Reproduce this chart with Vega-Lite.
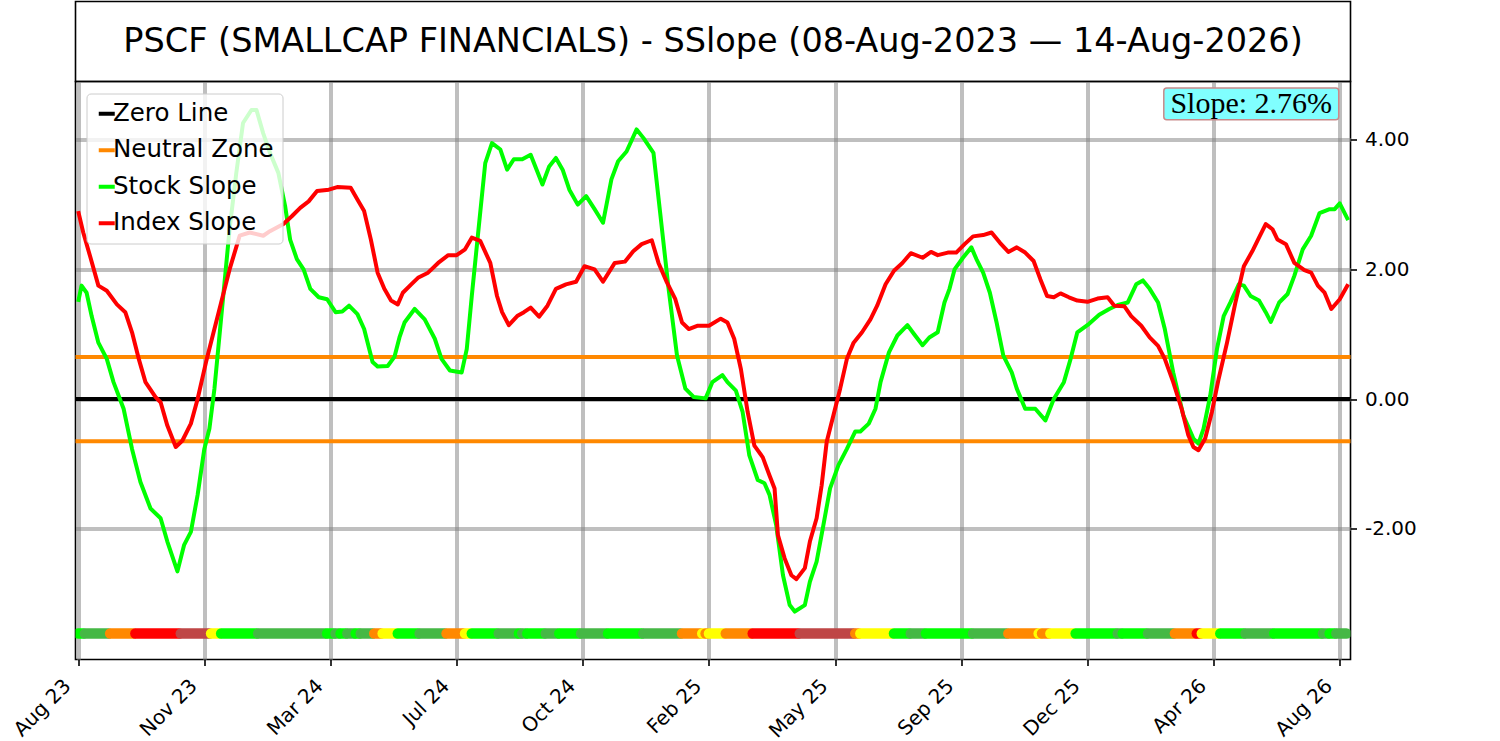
{
  "$schema": "https://vega.github.io/schema/vega-lite/v6.json",
  "background": "white",
  "padding": {"left": 8.5, "top": 0.5, "right": 0, "bottom": 0},
  "spacing": 0,
  "bounds": "flush",
  "datasets": {
    "refs": [
      {"name": "Zero Line", "y": 0},
      {"name": "Neutral Zone", "y": 0.65},
      {"name": "Neutral Zone", "y": -0.65}
    ],
    "stock": [
      {"t":0,"v":1.50},{"t":2,"v":1.75},{"t":5,"v":1.64},{"t":8,"v":1.28},{"t":12,"v":0.87},{"t":17,"v":0.62},{"t":21,"v":0.26},{"t":27,"v":-0.15},{"t":32,"v":-0.77},{"t":37,"v":-1.28},
      {"t":43,"v":-1.69},{"t":49,"v":-1.84},{"t":53,"v":-2.20},{"t":59,"v":-2.66},{"t":63,"v":-2.25},{"t":67,"v":-2.05},{"t":71,"v":-1.48},{"t":75,"v":-0.77},{"t":78,"v":-0.46},{"t":81,"v":0.16},
      {"t":84,"v":0.98},{"t":87,"v":1.80},{"t":90,"v":2.62},{"t":94,"v":3.49},{"t":98,"v":4.26},{"t":103,"v":4.46},{"t":106,"v":4.46},{"t":110,"v":4.10},{"t":114,"v":3.80},{"t":119,"v":3.49},
      {"t":123,"v":2.98},{"t":126,"v":2.46},{"t":130,"v":2.16},{"t":134,"v":2.00},{"t":138,"v":1.70},{"t":143,"v":1.57},{"t":148,"v":1.54},{"t":153,"v":1.34},{"t":157,"v":1.35},{"t":161,"v":1.44},
      {"t":166,"v":1.31},{"t":170,"v":1.08},{"t":175,"v":0.57},{"t":178,"v":0.50},{"t":184,"v":0.51},{"t":188,"v":0.65},{"t":191,"v":0.95},{"t":194,"v":1.18},{"t":200,"v":1.39},{"t":206,"v":1.23},
      {"t":212,"v":0.93},{"t":216,"v":0.62},{"t":221,"v":0.44},{"t":228,"v":0.41},{"t":231,"v":0.77},{"t":234,"v":1.59},{"t":238,"v":2.62},{"t":242,"v":3.64},{"t":246,"v":3.95},{"t":251,"v":3.85},
      {"t":255,"v":3.54},{"t":259,"v":3.70},{"t":264,"v":3.70},{"t":269,"v":3.77},{"t":276,"v":3.31},{"t":280,"v":3.59},{"t":284,"v":3.72},{"t":288,"v":3.54},{"t":292,"v":3.23},{"t":297,"v":3.00},
      {"t":302,"v":3.13},{"t":307,"v":2.93},{"t":312,"v":2.72},{"t":317,"v":3.39},{"t":321,"v":3.67},{"t":326,"v":3.82},{"t":332,"v":4.16},{"t":336,"v":4.03},{"t":342,"v":3.80},{"t":346,"v":2.87},
      {"t":351,"v":1.70},{"t":356,"v":0.67},{"t":361,"v":0.16},{"t":366,"v":0.03},{"t":373,"v":0.01},{"t":377,"v":0.26},{"t":383,"v":0.37},{"t":386,"v":0.26},{"t":391,"v":0.13},{"t":395,"v":-0.20},
      {"t":399,"v":-0.87},{"t":404,"v":-1.25},{"t":408,"v":-1.30},{"t":411,"v":-1.48},{"t":415,"v":-1.95},{"t":419,"v":-2.72},{"t":423,"v":-3.18},{"t":426,"v":-3.28},{"t":432,"v":-3.18},{"t":435,"v":-2.82},
      {"t":439,"v":-2.51},{"t":443,"v":-1.95},{"t":447,"v":-1.38},{"t":452,"v":-1.02},{"t":457,"v":-0.77},{"t":462,"v":-0.50},{"t":465,"v":-0.50},{"t":470,"v":-0.38},{"t":474,"v":-0.15},{"t":477,"v":0.26},
      {"t":482,"v":0.72},{"t":487,"v":0.98},{"t":493,"v":1.14},{"t":497,"v":1.00},{"t":502,"v":0.83},{"t":506,"v":0.95},{"t":511,"v":1.03},{"t":515,"v":1.49},{"t":518,"v":1.70},{"t":521,"v":2.00},
      {"t":526,"v":2.18},{"t":531,"v":2.34},{"t":534,"v":2.16},{"t":538,"v":1.95},{"t":542,"v":1.64},{"t":546,"v":1.18},{"t":550,"v":0.67},{"t":555,"v":0.41},{"t":558,"v":0.16},{"t":563,"v":-0.15},
      {"t":569,"v":-0.15},{"t":575,"v":-0.33},{"t":580,"v":0.00},{"t":586,"v":0.26},{"t":590,"v":0.62},{"t":594,"v":1.03},{"t":601,"v":1.16},{"t":607,"v":1.30},{"t":613,"v":1.39},{"t":618,"v":1.45},
      {"t":624,"v":1.49},{"t":629,"v":1.77},{"t":633,"v":1.83},{"t":637,"v":1.70},{"t":642,"v":1.49},{"t":646,"v":1.08},{"t":651,"v":0.41},{"t":657,"v":-0.25},{"t":663,"v":-0.61},{"t":666,"v":-0.69},
      {"t":669,"v":-0.46},{"t":673,"v":0.05},{"t":677,"v":0.77},{"t":681,"v":1.28},{"t":685,"v":1.49},{"t":690,"v":1.77},{"t":693,"v":1.75},{"t":697,"v":1.59},{"t":702,"v":1.52},{"t":706,"v":1.34},
      {"t":709,"v":1.19},{"t":714,"v":1.49},{"t":719,"v":1.62},{"t":723,"v":1.90},{"t":728,"v":2.31},{"t":733,"v":2.52},{"t":738,"v":2.87},{"t":744,"v":2.93},{"t":747,"v":2.93},{"t":750,"v":3.02},
      {"t":755,"v":2.76}
    ],
    "index": [
      {"t":0,"v":2.90},{"t":3,"v":2.57},{"t":7,"v":2.21},{"t":12,"v":1.75},{"t":17,"v":1.67},{"t":23,"v":1.46},{"t":28,"v":1.34},{"t":32,"v":1.03},{"t":36,"v":0.62},{"t":40,"v":0.26},
      {"t":46,"v":0.03},{"t":49,"v":-0.05},{"t":53,"v":-0.41},{"t":58,"v":-0.74},{"t":62,"v":-0.64},{"t":67,"v":-0.38},{"t":71,"v":0.00},{"t":76,"v":0.57},{"t":80,"v":0.98},{"t":85,"v":1.49},
      {"t":90,"v":2.00},{"t":96,"v":2.52},{"t":102,"v":2.57},{"t":110,"v":2.52},{"t":114,"v":2.59},{"t":122,"v":2.70},{"t":127,"v":2.82},{"t":132,"v":2.95},{"t":137,"v":3.05},{"t":142,"v":3.21},
      {"t":149,"v":3.23},{"t":154,"v":3.27},{"t":162,"v":3.26},{"t":166,"v":3.08},{"t":170,"v":2.90},{"t":174,"v":2.46},{"t":178,"v":1.95},{"t":182,"v":1.70},{"t":186,"v":1.52},{"t":190,"v":1.46},
      {"t":193,"v":1.64},{"t":198,"v":1.77},{"t":202,"v":1.87},{"t":208,"v":1.95},{"t":214,"v":2.10},{"t":220,"v":2.22},{"t":225,"v":2.22},{"t":230,"v":2.31},{"t":234,"v":2.49},{"t":239,"v":2.44},
      {"t":245,"v":2.10},{"t":249,"v":1.59},{"t":252,"v":1.34},{"t":256,"v":1.14},{"t":261,"v":1.28},{"t":265,"v":1.34},{"t":269,"v":1.41},{"t":274,"v":1.27},{"t":279,"v":1.44},{"t":284,"v":1.70},
      {"t":290,"v":1.77},{"t":296,"v":1.81},{"t":301,"v":2.05},{"t":307,"v":2.00},{"t":312,"v":1.81},{"t":319,"v":2.10},{"t":325,"v":2.12},{"t":330,"v":2.28},{"t":335,"v":2.39},{"t":341,"v":2.45},
      {"t":345,"v":2.10},{"t":350,"v":1.80},{"t":355,"v":1.54},{"t":359,"v":1.18},{"t":363,"v":1.08},{"t":368,"v":1.13},{"t":375,"v":1.13},{"t":382,"v":1.24},{"t":386,"v":1.18},{"t":390,"v":0.93},
      {"t":394,"v":0.46},{"t":398,"v":-0.20},{"t":402,"v":-0.72},{"t":407,"v":-0.90},{"t":411,"v":-1.18},{"t":414,"v":-1.38},{"t":416,"v":-2.10},{"t":420,"v":-2.46},{"t":424,"v":-2.72},{"t":427,"v":-2.78},
      {"t":432,"v":-2.61},{"t":435,"v":-2.20},{"t":439,"v":-1.84},{"t":442,"v":-1.33},{"t":445,"v":-0.66},{"t":449,"v":-0.25},{"t":453,"v":0.16},{"t":457,"v":0.62},{"t":461,"v":0.87},{"t":466,"v":1.03},
      {"t":471,"v":1.23},{"t":475,"v":1.44},{"t":480,"v":1.77},{"t":485,"v":1.98},{"t":490,"v":2.10},{"t":495,"v":2.25},{"t":502,"v":2.18},{"t":507,"v":2.27},{"t":511,"v":2.22},{"t":517,"v":2.26},
      {"t":522,"v":2.26},{"t":527,"v":2.39},{"t":532,"v":2.51},{"t":538,"v":2.53},{"t":543,"v":2.57},{"t":548,"v":2.41},{"t":553,"v":2.27},{"t":558,"v":2.34},{"t":563,"v":2.26},{"t":568,"v":2.13},
      {"t":572,"v":1.85},{"t":576,"v":1.59},{"t":580,"v":1.57},{"t":584,"v":1.63},{"t":589,"v":1.57},{"t":594,"v":1.52},{"t":600,"v":1.50},{"t":606,"v":1.55},{"t":612,"v":1.57},{"t":616,"v":1.44},
      {"t":622,"v":1.43},{"t":626,"v":1.28},{"t":632,"v":1.13},{"t":637,"v":0.95},{"t":642,"v":0.82},{"t":646,"v":0.62},{"t":651,"v":0.26},{"t":656,"v":-0.15},{"t":660,"v":-0.56},{"t":663,"v":-0.74},
      {"t":666,"v":-0.79},{"t":670,"v":-0.61},{"t":674,"v":-0.20},{"t":678,"v":0.31},{"t":683,"v":0.87},{"t":688,"v":1.49},{"t":693,"v":2.05},{"t":698,"v":2.28},{"t":702,"v":2.49},{"t":706,"v":2.70},
      {"t":710,"v":2.62},{"t":713,"v":2.46},{"t":718,"v":2.39},{"t":723,"v":2.10},{"t":729,"v":1.99},{"t":733,"v":1.95},{"t":737,"v":1.75},{"t":741,"v":1.64},{"t":745,"v":1.39},{"t":750,"v":1.54},
      {"t":755,"v":1.77}
    ],
    "strip": [
      {"a":0,"b":3,"s":"su"},{"a":4,"b":18,"s":"up"},{"a":19,"b":33,"s":"wk"},{"a":34,"b":60,"s":"dn"},{"a":61,"b":78,"s":"dw"},
      {"a":79,"b":84,"s":"fl"},{"a":85,"b":106,"s":"su"},{"a":107,"b":147,"s":"up"},{"a":148,"b":152,"s":"su"},{"a":153,"b":155,"s":"up"},
      {"a":156,"b":159,"s":"su"},{"a":160,"b":164,"s":"up"},{"a":165,"b":167,"s":"su"},{"a":168,"b":175,"s":"up"},{"a":176,"b":180,"s":"wk"},
      {"a":181,"b":189,"s":"fl"},{"a":190,"b":202,"s":"su"},{"a":203,"b":218,"s":"up"},{"a":219,"b":229,"s":"wk"},{"a":230,"b":233,"s":"fl"},
      {"a":234,"b":249,"s":"su"},{"a":250,"b":261,"s":"up"},{"a":262,"b":263,"s":"su"},{"a":264,"b":266,"s":"up"},{"a":267,"b":277,"s":"su"},
      {"a":278,"b":285,"s":"up"},{"a":286,"b":298,"s":"su"},{"a":299,"b":314,"s":"up"},{"a":315,"b":335,"s":"su"},{"a":336,"b":358,"s":"up"},
      {"a":359,"b":370,"s":"wk"},{"a":371,"b":372,"s":"fl"},{"a":373,"b":374,"s":"wk"},{"a":375,"b":384,"s":"fl"},{"a":385,"b":400,"s":"wk"},
      {"a":401,"b":428,"s":"dn"},{"a":429,"b":461,"s":"dw"},{"a":462,"b":464,"s":"wk"},{"a":465,"b":484,"s":"fl"},{"a":485,"b":494,"s":"su"},
      {"a":495,"b":503,"s":"up"},{"a":504,"b":531,"s":"su"},{"a":532,"b":552,"s":"up"},{"a":553,"b":570,"s":"wk"},{"a":571,"b":572,"s":"fl"},
      {"a":573,"b":577,"s":"wk"},{"a":578,"b":592,"s":"fl"},{"a":593,"b":617,"s":"su"},{"a":618,"b":620,"s":"up"},{"a":621,"b":635,"s":"su"},
      {"a":636,"b":651,"s":"up"},{"a":652,"b":664,"s":"wk"},{"a":665,"b":667,"s":"dn"},{"a":668,"b":678,"s":"fl"},{"a":679,"b":693,"s":"su"},
      {"a":694,"b":710,"s":"up"},{"a":711,"b":739,"s":"su"},{"a":740,"b":743,"s":"up"},{"a":744,"b":747,"s":"su"},{"a":748,"b":754,"s":"up"}
    ]
  },
  "vconcat": [
    {
      "width": 1275,
      "height": 80,
      "data": {"values": [{"title": "PSCF (SMALLCAP FINANCIALS) - SSlope (08-Aug-2023 — 14-Aug-2026)"}]},
      "mark": {"type": "text", "font": "DejaVu Sans", "fontSize": 33.5, "align": "center", "baseline": "middle", "color": "black"},
      "encoding": {
        "x": {"datum": 0.5, "type": "quantitative", "scale": {"domain": [0, 1]}, "axis": null},
        "y": {"datum": 0.5, "type": "quantitative", "scale": {"domain": [0, 1]}, "axis": null},
        "text": {"field": "title", "type": "nominal"}
      }
    },
    {
      "width": 1275,
      "height": 578,
      "layer": [
        {
          "data": {"name": "refs"},
          "mark": {"type": "rule", "strokeWidth": 4},
          "encoding": {
            "y": {
              "field": "y",
              "type": "quantitative",
              "scale": {"domain": [-4.02, 4.9], "nice": false, "zero": false},
              "axis": {
                "orient": "right",
                "values": [-2, 0, 2, 4],
                "labelExpr": "replace(format(datum.value, '.2f'), '\u2212', '-')",
                "title": null,
                "labelPadding": 8
              }
            },
            "color": {
              "field": "name",
              "type": "nominal",
              "scale": {
                "domain": ["Zero Line", "Neutral Zone", "Stock Slope", "Index Slope"],
                "range": ["#000000", "#ff8800", "#00ff00", "#ff0000"]
              },
              "legend": {
                "title": null,
                "orient": "none",
                "legendX": 11,
                "legendY": 92,
                "symbolType": "stroke",
                "symbolStrokeWidth": 4,
                "symbolSize": 256,
                "labelFontSize": 24.5,
                "labelFont": "DejaVu Sans",
                "labelColor": "black",
                "labelLimit": 300,
                "labelOffset": -6,
                "rowPadding": 11.5,
                "padding": 8,
                "fillColor": "rgba(255,255,255,0.8)",
                "strokeColor": "#cccccc",
                "cornerRadius": 4
              }
            }
          }
        },
        {
          "data": {"name": "strip"},
          "mark": {"type": "rule", "strokeWidth": 10.5, "strokeCap": "round", "clip": true},
          "encoding": {
            "x": {"field": "a", "type": "quantitative"},
            "x2": {"field": "b"},
            "y": {"datum": -3.62},
            "stroke": {
              "field": "s",
              "type": "nominal",
              "scale": {
                "domain": ["su", "up", "fl", "wk", "dn", "dw"],
                "range": ["#00ff00", "#45b845", "#ffff00", "#ff8800", "#ff0000", "#bf4646"]
              },
              "legend": null
            }
          }
        },
        {
          "data": {"name": "stock"},
          "mark": {"type": "line", "strokeWidth": 4, "strokeJoin": "round"},
          "encoding": {
            "x": {
              "field": "t",
              "type": "quantitative",
              "scale": {"domain": [-1.6, 756.4], "nice": false, "zero": false},
              "axis": {
                "values": [0, 75, 150, 225, 300, 375, 450, 525, 600, 675, 750],
                "labelExpr": "['Aug 23','Nov 23','Mar 24','Jul 24','Oct 24','Feb 25','May 25','Sep 25','Dec 25','Apr 26','Aug 26'][round(datum.value / 75)]",
                "labelAngle": -45,
                "labelAlign": "right",
                "labelBaseline": "top",
                "labelOffset": -18,
                "labelPadding": 10,
                "labelFlush": false,
                "labelOverlap": false,
                "title": null
              }
            },
            "y": {"field": "v", "type": "quantitative"},
            "color": {"datum": "Stock Slope"}
          }
        },
        {
          "data": {"name": "index"},
          "mark": {"type": "line", "strokeWidth": 4, "strokeJoin": "round"},
          "encoding": {
            "x": {"field": "t", "type": "quantitative"},
            "y": {"field": "v", "type": "quantitative"},
            "color": {"datum": "Index Slope"}
          }
        },
        {
          "data": {"values": [{"label": "Slope: 2.76%"}]},
          "mark": {"type": "rect", "fill": "#80ffff", "stroke": "#c88a8a", "strokeWidth": 1.5, "cornerRadius": 3},
          "encoding": {
            "x": {"datum": 645.4},
            "x2": {"datum": 749.4},
            "y": {"datum": 4.80},
            "y2": {"datum": 4.31}
          }
        },
        {
          "data": {"values": [{"label": "Slope: 2.76%"}]},
          "mark": {"type": "text", "font": "Liberation Serif", "fontSize": 30, "align": "center", "baseline": "middle", "color": "black"},
          "encoding": {
            "x": {"datum": 697.4},
            "y": {"datum": 4.555},
            "text": {"field": "label", "type": "nominal"}
          }
        }
      ]
    }
  ],
  "config": {
    "font": "DejaVu Sans",
    "view": {"stroke": "black", "strokeWidth": 1.6},
    "axis": {
      "domain": false,
      "grid": true,
      "gridColor": "#808080",
      "gridOpacity": 0.5,
      "gridWidth": 4,
      "ticks": true,
      "tickSize": 6,
      "tickWidth": 1.6,
      "tickColor": "black",
      "labelFont": "DejaVu Sans",
      "labelFontSize": 20,
      "labelColor": "black"
    }
  }
}
